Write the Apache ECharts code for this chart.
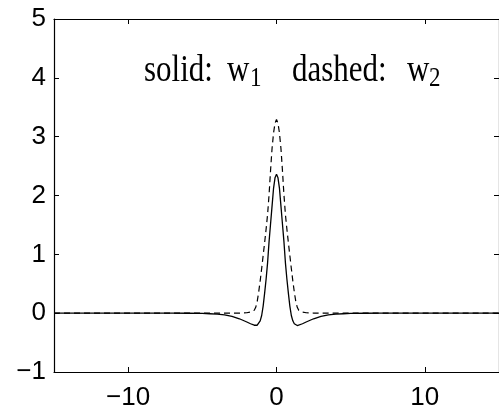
<!DOCTYPE html>
<html>
<head>
<meta charset="utf-8">
<script src="https://cdn.jsdelivr.net/npm/echarts@6/dist/echarts.min.js"></script>
<style>
html,body{margin:0;padding:0;background:#fff;}
#c{width:499px;height:414px;}
</style>
</head>
<body>
<div id="c"></div>
<script>
// x positions (shared by both series)
const xs = [-15,-10,-7,-6,-5,-4.5,-4,-3.5,-3,-2.5,-2,-1.75,-1.5,-1.4,-1.3,-1.2,-1.1,-1.0,-0.9,-0.8,-0.7,-0.6,-0.5,-0.4,-0.3,-0.2,-0.1,
            0,
            0.1,0.2,0.3,0.4,0.5,0.6,0.7,0.8,0.9,1.0,1.1,1.2,1.3,1.4,1.5,1.75,2,2.5,3,3.5,4,4.5,5,6,7,10,15];
// solid: w1
const w1 = [0,0,0,-0.001,-0.005,-0.01,-0.017,-0.03,-0.055,-0.095,-0.15,-0.18,-0.205,-0.21,-0.205,-0.18,-0.13,-0.04,0.12,0.34,0.58,0.86,1.22,1.52,1.82,2.12,2.30,
            2.36,
            2.30,2.12,1.82,1.52,1.22,0.86,0.58,0.34,0.12,-0.04,-0.13,-0.18,-0.205,-0.21,-0.205,-0.18,-0.15,-0.095,-0.055,-0.03,-0.017,-0.01,-0.005,-0.001,0,0,0];
// dashed: w2
const w2 = [0,0,0,0,0,0,0,0,0,0.002,0.007,0.018,0.05,0.1,0.2,0.36,0.55,0.76,0.98,1.2,1.43,1.68,2.02,2.43,2.80,3.06,3.23,
            3.29,
            3.23,3.06,2.80,2.43,2.02,1.68,1.43,1.2,0.98,0.76,0.55,0.36,0.2,0.1,0.05,0.018,0.007,0.002,0,0,0,0,0,0,0,0,0];

const xTickValues = [-10, 0, 10];
const xTickLabels = ['\u221210', '0', '10'];
const yTickValues = [-1, 0, 1, 2, 3, 4, 5];
const yTickLabels = ['\u22121', '0', '1', '2', '3', '4', '5'];

const pts1 = xs.map((x, i) => [x, w1[i]]);
const pts2 = xs.map((x, i) => [x, w2[i]]);

const chart = echarts.init(document.getElementById('c'), null, {renderer: 'canvas'});
const axLine = {show: true, onZero: false, lineStyle: {color: '#000', width: 1.2}};
const labelFont = {color: '#000', fontSize: 26, fontFamily: 'Liberation Sans, Arial, sans-serif'};
const serif = 'Liberation Serif, Times New Roman, serif';

function txt(str, x, y, size) {
  return {type: 'text', x: x, y: y, scaleY: 1.22, z: 10,
          style: {text: str, x: 0, y: 0, fontSize: size, fontFamily: serif, fill: '#000',
                  textAlign: 'left', textVerticalAlign: 'top'}};
}

chart.setOption({
  animation: false,
  backgroundColor: '#fff',
  grid: {left: 54, top: 19, width: 447, height: 353, containLabel: false},
  xAxis: [
    {type: 'value', min: -15, max: 15, position: 'bottom',
     axisLine: axLine,
     axisTick: {show: true, inside: true, length: 5, customValues: xTickValues, lineStyle: {color: '#000', width: 1}},
     axisLabel: Object.assign({show: true, margin: 13, customValues: xTickValues,
       formatter: v => xTickLabels[xTickValues.indexOf(v)]}, labelFont),
     splitLine: {show: false}},
    {type: 'value', min: -15, max: 15, position: 'top',
     axisLine: axLine,
     axisTick: {show: true, inside: true, length: 5, customValues: xTickValues, lineStyle: {color: '#000', width: 1}},
     axisLabel: {show: false},
     splitLine: {show: false}}
  ],
  yAxis: [
    {type: 'value', min: -1, max: 5, interval: 1, position: 'left',
     axisLine: axLine,
     axisTick: {show: true, inside: true, length: 5, lineStyle: {color: '#000', width: 1}},
     axisLabel: Object.assign({show: true, margin: 8, padding: [3, 0, 0, 0],
       formatter: v => yTickLabels[yTickValues.indexOf(v)]}, labelFont),
     splitLine: {show: false}},
    {type: 'value', min: -1, max: 5, interval: 1, position: 'right',
     axisLine: axLine,
     axisTick: {show: true, inside: true, length: 5, lineStyle: {color: '#000', width: 1}},
     axisLabel: {show: false},
     splitLine: {show: false}}
  ],
  series: [
    {name: 'w1', type: 'line', data: pts1, xAxisIndex: 0, yAxisIndex: 0, showSymbol: false, smooth: false,
     lineStyle: {color: '#000', width: 1.3, type: 'solid'}},
    {name: 'w2', type: 'line', data: pts2, xAxisIndex: 0, yAxisIndex: 0, showSymbol: false, smooth: false,
     lineStyle: {color: '#000', width: 1.2, type: [6, 4]}}
  ],
  graphic: [
    txt('solid:', 144, 52, 31),
    txt('w', 227, 52, 31),
    txt('1', 250, 65, 23),
    txt('dashed:', 292, 52, 31),
    txt('w', 407, 52, 31),
    txt('2', 429, 65, 23)
  ]
});
</script>
</body>
</html>
